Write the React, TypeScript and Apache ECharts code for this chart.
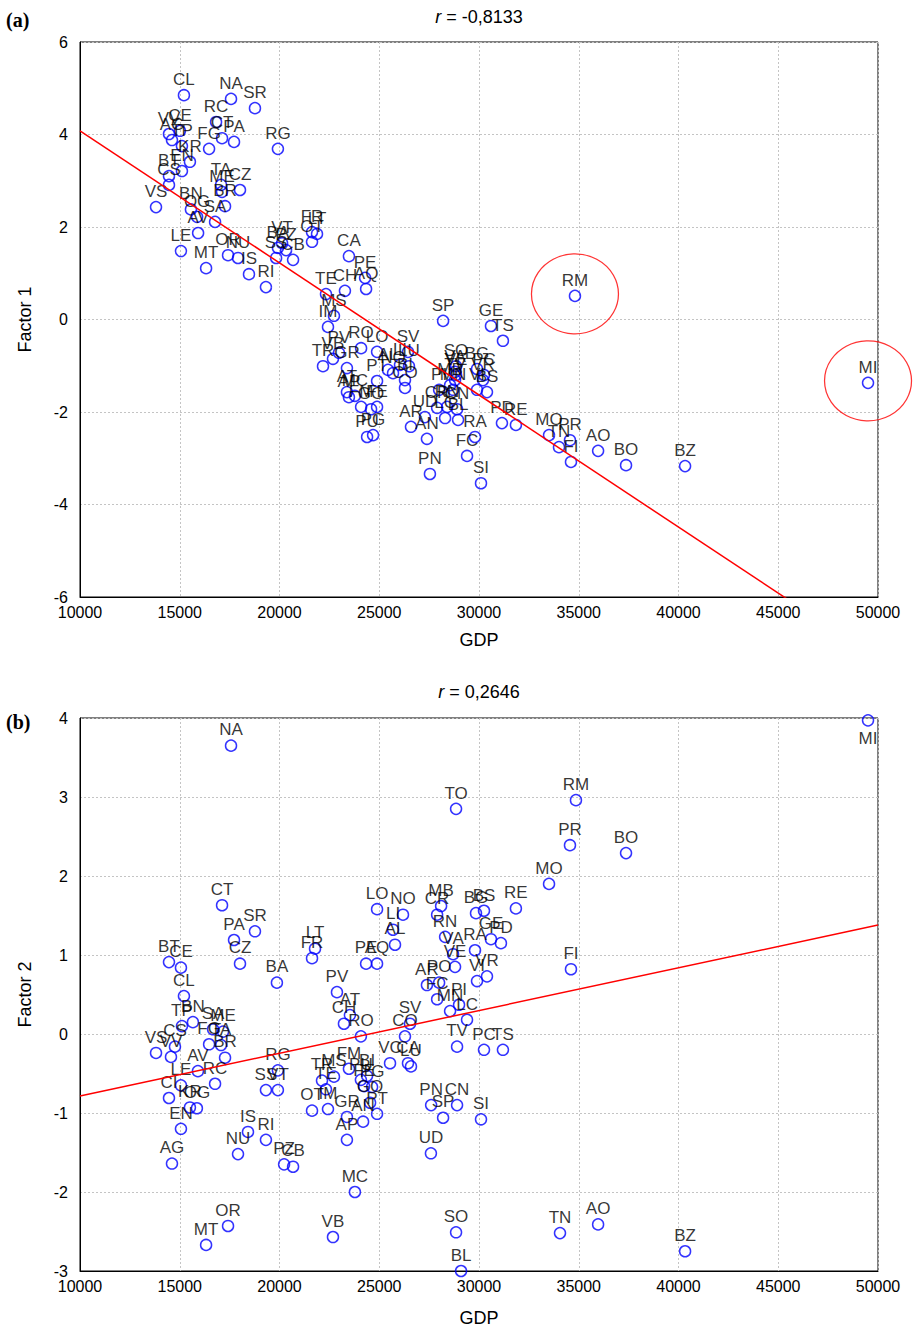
import React, { useEffect, useRef } from "react";
import * as echarts from "echarts";

// Panel (a): province codes, GDP per capita and Factor 1 scores
const namesA = [
  "CL", "NA", "SR", "RC", "CT", "PA", "FG", "RG", "VV", "CE", "AG", "TP", "KR", "EN", "BT", "CS", "VS",
  "TA", "ME", "CZ", "BR", "BN", "OG", "SA", "AV", "LE", "MT", "OR", "NU", "IS", "SS", "RI", "BA", "VT",
  "PZ", "CB", "FR", "LT", "OT", "CA", "PE", "AQ", "TE", "CH", "MS", "IM", "SP", "GE", "TS", "RO", "PV",
  "VB", "TR", "GR", "LO", "SV", "AL", "NO", "LI", "LU", "BI", "CO", "PT", "AT", "AP", "MC", "FM", "GO",
  "FE", "PU", "PG", "AR", "AN", "PN", "UD", "PI", "MB", "CR", "RN", "LC", "BL", "RA", "FC", "SO", "VA",
  "BG", "PC", "VR", "BS", "VI", "MN", "TV", "VE", "CN", "PD", "RE", "SI", "MO", "TN", "PR", "FI", "AO",
  "BO", "BZ", "RM", "MI",
];
const gdpA = [
  15210, 17570, 18770, 16820, 17120, 17720, 16470, 19920, 14460, 15010, 14610, 15110, 15510, 15110, 14460, 14460, 13810,
  17070, 17120, 18020, 17270, 15560, 15870, 16770, 15920, 15060, 16320, 17420, 17920, 18470, 19830, 19320, 19920, 20130,
  20330, 20680, 21630, 21880, 21630, 23480, 24290, 24340, 22330, 23280, 22730, 22430, 28200, 30600, 31200, 24090, 22980,
  22680, 22180, 23380, 24890, 26440, 25440, 25690, 26040, 26490, 26290, 26290, 24890, 23380, 23480, 23780, 24090, 24590,
  24890, 24390, 24690, 26590, 27390, 27540, 27290, 28000, 28550, 27900, 28400, 28300, 28950, 29800, 29400, 28850, 28800,
  29900, 30250, 30200, 30400, 29900, 28700, 28800, 28850, 28900, 31150, 31850, 30100, 33510, 34010, 34560, 34610, 35970,
  37370, 40330, 34810, 49500,
];
const factor1 = [
  4.85, 4.77, 4.57, 4.27, 3.92, 3.84, 3.69, 3.69, 4.01, 4.08, 3.88, 3.75, 3.41, 3.21, 3.1, 2.91, 2.43,
  2.91, 2.76, 2.8, 2.45, 2.38, 2.22, 2.11, 1.87, 1.48, 1.11, 1.39, 1.33, 0.98, 1.33, 0.7, 1.55, 1.65,
  1.5, 1.29, 1.89, 1.85, 1.68, 1.37, 0.9, 0.66, 0.55, 0.62, 0.08, -0.16, -0.03, -0.14, -0.46, -0.62, -0.72,
  -0.85, -1.01, -1.05, -0.7, -0.7, -1.09, -1.16, -0.98, -1.01, -1.31, -1.48, -1.33, -1.57, -1.68, -1.65, -1.89, -1.94,
  -1.89, -2.54, -2.5, -2.32, -2.58, -3.34, -2.11, -1.52, -1.42, -1.91, -1.89, -2.13, -2.17, -2.54, -2.95, -1.01, -1.13,
  -1.07, -1.2, -1.31, -1.57, -1.52, -1.52, -1.31, -1.2, -1.94, -2.24, -2.28, -3.54, -2.5, -2.76, -2.61, -3.08, -2.84,
  -3.15, -3.17, 0.51, -1.37,
];

// Panel (b): province codes, GDP per capita and Factor 2 scores
const namesB = [
  "NA", "CT", "SR", "PA", "CZ", "BT", "CE", "BA", "CL", "TP", "BN", "SA", "ME", "FG", "TA", "BR", "CS",
  "VV", "VS", "AV", "RC", "LE", "CI", "KR", "OG", "EN", "AG", "NU", "IS", "RI", "PZ", "CB", "SS", "VT",
  "RG", "OT", "MT", "OR", "PV", "AT", "CH", "RO", "SV", "CO", "VC", "CA", "LU", "FM", "MS", "TR", "TE",
  "PU", "BI", "PG", "FE", "GO", "IM", "GR", "AN", "PT", "AP", "MC", "VB", "LO", "NO", "LI", "AL", "PE",
  "AQ", "CR", "MB", "RN", "BG", "BS", "RE", "VA", "RA", "GE", "PD", "VE", "VR", "VI", "AR", "PO", "FC",
  "MN", "PI", "LC", "TV", "PC", "TS", "TO", "RM", "PR", "BO", "MO", "FI", "MI", "TN", "AO", "BZ", "SO",
  "BL", "UD", "PN", "SP", "CN", "SI", "LT", "FR",
];
const gdpB = [
  17570, 17120, 18770, 17720, 18020, 14460, 15060, 19870, 15210, 15110, 15660, 16670, 17170, 16470, 17070, 17270, 14760,
  14560, 13810, 15910, 16770, 15060, 14460, 15510, 15860, 15060, 14610, 17920, 18420, 19320, 20230, 20680, 19320, 19920,
  19920, 21630, 16320, 17420, 22880, 23530, 23230, 24080, 26540, 26290, 25540, 26440, 26590, 23480, 22730, 22130, 22330,
  24080, 24390, 24640, 24240, 24540, 22430, 23380, 24190, 24890, 23380, 23780, 22680, 24890, 26190, 25690, 25790, 24340,
  24890, 27900, 28100, 28300, 29850, 30250, 31850, 28700, 29800, 30600, 31100, 28800, 30400, 29900, 27390, 28000, 27900,
  28550, 29000, 29400, 28900, 30250, 31200, 28850, 34860, 34560, 37370, 33510, 34610, 49500, 34060, 35970, 40330, 28850,
  29100, 27590, 27600, 28200, 28900, 30100, 21780, 21630,
];
const factor2 = [
  3.65, 1.63, 1.3, 1.19, 0.89, 0.91, 0.84, 0.65, 0.48, 0.1, 0.15, 0.06, 0.03, -0.13, -0.14, -0.3, -0.16,
  -0.29, -0.24, -0.47, -0.63, -0.65, -0.81, -0.93, -0.94, -1.2, -1.64, -1.52, -1.24, -1.34, -1.65, -1.68, -0.71, -0.71,
  -0.46, -0.97, -2.67, -2.43, 0.53, 0.24, 0.13, -0.03, 0.13, -0.03, -0.37, -0.37, -0.41, -0.44, -0.54, -0.59, -0.7,
  -0.58, -0.53, -0.67, -0.66, -0.87, -0.95, -1.05, -1.11, -1.01, -1.34, -2.0, -2.57, 1.58, 1.51, 1.32, 1.13, 0.89,
  0.89, 1.51, 1.62, 1.23, 1.53, 1.56, 1.59, 1.01, 1.06, 1.2, 1.15, 0.85, 0.73, 0.67, 0.62, 0.65, 0.44,
  0.29, 0.37, 0.18, -0.16, -0.2, -0.2, 2.85, 2.96, 2.39, 2.29, 1.9, 0.82, 3.97, -2.52, -2.41, -2.75, -2.51,
  -3.0, -1.51, -0.9, -1.06, -0.9, -1.08, 1.08, 0.96,
];

// Provinces ringed as outliers in panel (a)
const outliersA = ["RM", "MI"];
// Provinces whose label sits under the marker in panel (b)
const labelsBelowB = ["MI"];

// Least-squares lines: value at GDP = 10000 and slope per unit of GDP
const fit1 = { at10000: 4.08, slope: -2.856e-4 };
const fit2 = { at10000: -0.785, slope: 5.41e-5 };

const titleA = "-0,8133";
const titleB = "0,2646";

const FONT = "'Liberation Sans', Arial, Helvetica, sans-serif";

function scatterData(names: string[], gdp: number[], f: number[], below: string[] = []) {
  return names.map((n, i) =>
    below.includes(n)
      ? { name: n, value: [gdp[i], f[i]], label: { position: "bottom", distance: 3 } }
      : { name: n, value: [gdp[i], f[i]] }
  );
}

function fitLine(fit: { at10000: number; slope: number }) {
  return [10000, 50000].map((x) => [x, fit.at10000 + fit.slope * (x - 10000)]);
}

function xAxisFor(gridIndex: number, nameGap: number) {
  return {
    gridIndex,
    type: "value",
    min: 10000,
    max: 50000,
    interval: 5000,
    name: "GDP",
    nameLocation: "middle",
    nameGap,
    nameTextStyle: { fontSize: 18, color: "#000", fontFamily: FONT },
    axisLine: { show: true, onZero: false, lineStyle: { color: "#000", width: 1 } },
    axisTick: { show: false },
    axisLabel: { fontSize: 16, color: "#000", margin: 7, fontFamily: FONT, formatter: (v: number) => String(v) },
    splitLine: { show: true, lineStyle: { color: "#c4c4c4", type: [2, 2], width: 1 } },
  };
}

function yAxisFor(gridIndex: number, name: string, min: number, max: number, interval: number) {
  return {
    gridIndex,
    type: "value",
    min,
    max,
    interval,
    name,
    nameLocation: "middle",
    nameGap: 46,
    nameTextStyle: { fontSize: 18, color: "#000", fontFamily: FONT },
    axisLine: { show: true, onZero: false, lineStyle: { color: "#000", width: 1 } },
    axisTick: { show: false },
    axisLabel: { fontSize: 16, color: "#000", margin: 12, fontFamily: FONT, formatter: (v: number) => String(v) },
    splitLine: { show: true, lineStyle: { color: "#c4c4c4", type: [2, 2], width: 1 } },
  };
}

function pointSeries(idx: number, names: string[], gdp: number[], f: number[], below: string[] = []) {
  return {
    type: "scatter",
    xAxisIndex: idx,
    yAxisIndex: idx,
    data: scatterData(names, gdp, f, below),
    symbol: "circle",
    symbolSize: 11,
    itemStyle: { color: "rgba(0,0,0,0)", borderColor: "#0000ff", borderWidth: 1.5 },
    label: {
      show: true,
      position: "top",
      distance: 1,
      formatter: "{b}",
      fontSize: 17,
      color: "#000",
      fontFamily: FONT,
    },
    labelLayout: { hideOverlap: false },
    emphasis: { disabled: true },
    z: 3,
  };
}

function lineSeries(idx: number, data: number[][]) {
  return {
    type: "line",
    xAxisIndex: idx,
    yAxisIndex: idx,
    data,
    symbol: "none",
    clip: true,
    lineStyle: { color: "#ff0000", width: 1.5 },
    emphasis: { disabled: true },
    z: 4,
  };
}

function titleText(y: number, value: string) {
  return {
    type: "text",
    x: 479,
    y,
    style: {
      text: "{i|r} = " + value,
      rich: { i: { fontStyle: "italic", fontSize: 18, fontFamily: FONT, fill: "#000" } },
      fontSize: 18,
      fontFamily: FONT,
      fill: "#000",
      align: "center",
      verticalAlign: "middle",
      textAlign: "center",
      textVerticalAlign: "middle",
    },
  };
}

function panelTag(y: number, tag: string) {
  return {
    type: "text",
    x: 6,
    y,
    style: {
      text: tag,
      font: "bold 20px 'Liberation Serif', 'Times New Roman', serif",
      fill: "#000",
      verticalAlign: "middle",
      textVerticalAlign: "middle",
    },
  };
}

export default function App() {
  const ref = useRef<HTMLDivElement>(null);

  useEffect(() => {
    document.body.style.margin = "0";
    if (!ref.current) return;
    const chart = echarts.init(ref.current, null, { renderer: "svg" });

    const outlierData = outliersA.map((code) => {
      const i = namesA.indexOf(code);
      return { name: code, value: [gdpA[i], factor1[i]] };
    });

    chart.setOption({
      animation: false,
      backgroundColor: "#ffffff",
      textStyle: { fontFamily: FONT },
      grid: [
        { left: 80, top: 42, width: 798, height: 555, show: true, borderColor: "#000", borderWidth: 1, backgroundColor: "transparent" },
        { left: 80, top: 718, width: 798, height: 553, show: true, borderColor: "#000", borderWidth: 1, backgroundColor: "transparent" },
      ],
      xAxis: [xAxisFor(0, 34), xAxisFor(1, 38)],
      yAxis: [yAxisFor(0, "Factor 1", -6, 6, 2), yAxisFor(1, "Factor 2", -3, 4, 1)],
      graphic: [titleText(17, titleA), titleText(692, titleB), panelTag(20, "(a)"), panelTag(722, "(b)")],
      series: [
        pointSeries(0, namesA, gdpA, factor1),
        lineSeries(0, fitLine(fit1)),
        {
          type: "scatter",
          xAxisIndex: 0,
          yAxisIndex: 0,
          data: outlierData,
          symbol: "circle",
          symbolSize: [87, 80],
          symbolOffset: [0, -2],
          clip: false,
          itemStyle: { color: "rgba(0,0,0,0)", borderColor: "#ff0000", borderWidth: 1.2 },
          label: { show: false },
          emphasis: { disabled: true },
          silent: true,
          z: 5,
        },
        pointSeries(1, namesB, gdpB, factor2, labelsBelowB),
        lineSeries(1, fitLine(fit2)),
      ],
    });

    return () => chart.dispose();
  }, []);

  return <div ref={ref} style={{ width: 913, height: 1335 }} />;
}
